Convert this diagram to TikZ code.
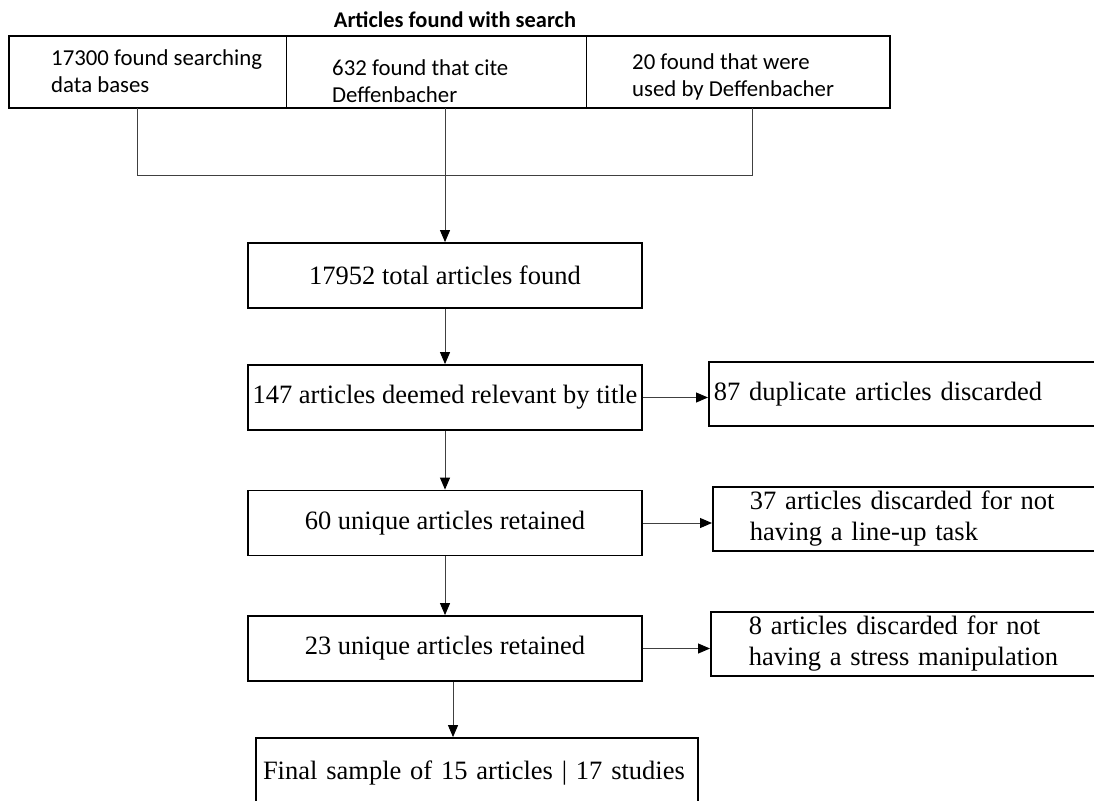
\documentclass[tikz,border=0pt]{standalone}
\usepackage{fontspec}
\setmainfont{Liberation Serif}
\newfontfamily\calibri{Carlito}
\usepackage{tikz}
\usetikzlibrary{arrows.meta}

\begin{document}
\begin{tikzpicture}[x=1pt,y=-1pt,
		stepbox/.style={draw, line width=1.8pt, minimum width=394pt, minimum height=65pt,
			inner xsep=3pt, font=\fontsize{26.5}{31}\selectfont},
		discard/.style={draw, line width=1.8pt, anchor=west, minimum height=64pt,
			inner ysep=2pt, align=left, font=\fontsize{26.5}{31}\selectfont},
		cell/.style={anchor=west, inner sep=0pt, align=left,
			font=\calibri\fontsize{22.8}{27}\selectfont},
		link/.style={draw=black!75, line width=1pt},
		flow/.style={link, -{Triangle[length=12pt,width=10pt,color=black]}}]

		\useasboundingbox (0,0) rectangle (1094,800);
		\clip (0,0) rectangle (1094,800);

		% Define the macro.
		% 1st argument: Name of the discard box.
		% 2nd argument: Name of the step box it branches off.
		% 3rd argument: Left middle point of the box.
		% 4th argument: Left padding of the text.
		% 5th argument: Text width.
		% 6th argument: Text to be placed in the box.

		\newcommand{\discardBox}[6]{
			\node[discard, inner xsep=#4, text width=#5] (#1) at (#3) {#6};
			\draw[flow] (#2.east) -- (#2.east -| #1.west);
		}

		% SEARCH
		\node[anchor=base, font=\calibri\bfseries\fontsize{22.4}{27}\selectfont]
			(search title) at (455,28) {Articles found with search};
		\node[draw, line width=2.2pt, minimum width=881pt, minimum height=72pt]
			(search box) at (449.5,72) {};
		\draw[line width=0.8pt] (286,36) -- (286,108);    % dividers
		\draw[line width=0.8pt] (586,36) -- (586,108);

		\node[cell] (databases) at (51,71.5) {17300 found searching\\data bases};
		\node[cell] (citing) at (332,81) {632 found that cite\\Deffenbacher};
		\node[cell] (cited) at (632,76.5) {20 found that were\\used by Deffenbacher};

		\coordinate (databases drop) at (137,108);
		\coordinate (citing drop) at (445,108);
		\coordinate (cited drop) at (752,108);

		% SCREENING
		\node[stepbox] (total found) at (445,275.5) {17952 total articles found};
		\node[stepbox] (by title) at (445,397.5) {147 articles deemed relevant by title};
		\node[stepbox] (first retained) at (445,523) {60 unique articles retained};
		\node[stepbox] (second retained) at (445,648.5) {23 unique articles retained};
		\node[draw, line width=1.8pt, minimum width=442pt, minimum height=70pt,
			inner xsep=7pt, text width=428pt, align=left, font=\fontsize{26.5}{31}\selectfont]
			(final sample) at (477,773) {Final sample of 15 articles | 17 studies};

		\draw[link] (databases drop) -- ++(0,67) -| (cited drop);
		\draw[flow] (citing drop) -- (total found.north);
		\draw[flow] (total found) -- (by title);
		\draw[flow] (by title) -- (first retained);
		\draw[flow] (first retained) -- (second retained);
		\draw[flow] ([xshift=8pt]second retained.south)
			-- ([xshift=8pt]second retained.south |- final sample.north);

		% DISCARDED
		\discardBox{duplicates}{by title}{708,394}{5pt}{382pt}{87 duplicate articles discarded}
		\discardBox{no lineup}{first retained}{712,519}{37pt}{318pt}{37 articles discarded for not\\having a line-up task}
		\discardBox{no stress}{second retained}{710,644}{38pt}{316pt}{8 articles discarded for not\\having a stress manipulation}

	\end{tikzpicture}
\end{document}
